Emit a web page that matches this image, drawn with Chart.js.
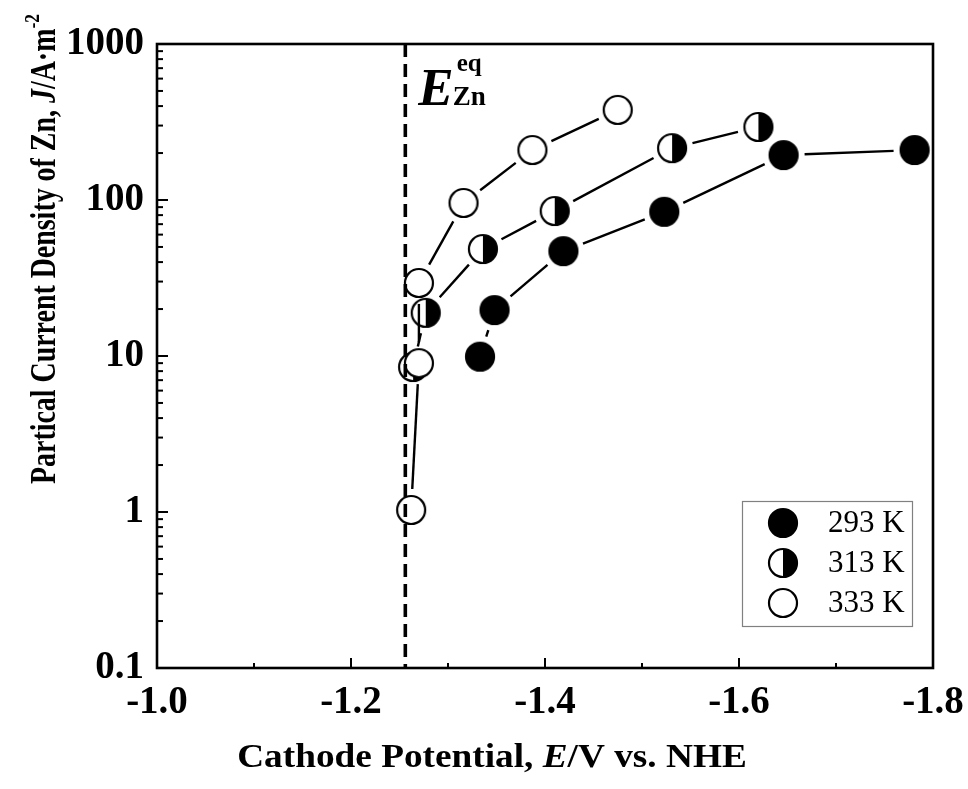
<!DOCTYPE html>
<html>
<head>
<meta charset="utf-8">
<script src="https://cdn.jsdelivr.net/npm/chart.js@4.4.1/dist/chart.umd.min.js"></script>
<style>
  html, body { margin: 0; padding: 0; background: #fff; }
  #wrap { width: 968px; height: 789px; }
</style>
</head>
<body>
<div id="wrap"><canvas id="myChart" width="968" height="789"></canvas></div>
<script>
// cathode potential (V vs. NHE) and partial current density of Zn (A/m2)
var potential293 = [-1.333, -1.348, -1.419, -1.523, -1.646, -1.781];
var density293   = [9.9, 19.7, 47, 84, 194, 209];
var potential313 = [-1.264, -1.277, -1.336, -1.410, -1.531, -1.620];
var density313   = [8.5, 18.9, 48.5, 85, 215, 294];
var potential333 = [-1.262, -1.270, -1.270, -1.316, -1.387, -1.475];
var density333   = [1.03, 9.0, 29.4, 95.7, 209, 378];
var seriesLabels = ['293 K', '313 K', '333 K'];
var eqPotential  = -1.256;   // E eq Zn, dashed line

var xTicks = [-1.0, -1.2, -1.4, -1.6, -1.8];
var xMinorTicks = [-1.1, -1.3, -1.5, -1.7];
var yTicks = [0.1, 1, 10, 100, 1000];

var SERIF = '"Liberation Serif", "Times New Roman", serif';

// marker symbols, drawn once on small canvases
function makeMarker(kind) {
  var c = document.createElement('canvas');
  c.width = 34; c.height = 34;
  var g = c.getContext('2d');
  var r = 14;
  if (kind === 'filled') {
    g.beginPath(); g.arc(17, 17, r, 0, 2 * Math.PI); g.fillStyle = '#000'; g.fill();
  } else if (kind === 'open') {
    g.beginPath(); g.arc(17, 17, r, 0, 2 * Math.PI); g.fillStyle = '#fff'; g.fill();
  } else {
    g.beginPath(); g.moveTo(17, 17 - r); g.arc(17, 17, r, -Math.PI / 2, Math.PI / 2); g.closePath();
    g.fillStyle = '#000'; g.fill();
  }
  g.beginPath(); g.arc(17, 17, r, 0, 2 * Math.PI);
  g.lineWidth = 2.2; g.strokeStyle = '#000'; g.stroke();
  return c;
}
var markers = [makeMarker('filled'), makeMarker('half'), makeMarker('open')];

function pts(xs, ys) {
  return xs.map(function (x, i) { return { x: x, y: ys[i] }; });
}

// draws a run of text pieces [text, font, dy] one after another
function drawRun(ctx, parts, x, y) {
  parts.forEach(function (p) {
    ctx.font = p[1] + SERIF;
    ctx.fillText(p[0], x, y + (p[2] || 0));
    x += ctx.measureText(p[0]).width;
  });
}
function runWidth(ctx, parts) {
  var w = 0;
  parts.forEach(function (p) { ctx.font = p[1] + SERIF; w += ctx.measureText(p[0]).width; });
  return w;
}

// lines between symbols with a small gap, frame, inward ticks, labels
var decor = {
  id: 'decor',
  beforeDatasetsDraw: function (chart) {
    var ctx = chart.ctx, gap = 21;
    ctx.save();
    ctx.strokeStyle = '#000';
    ctx.lineWidth = 2.4;
    chart.data.datasets.forEach(function (ds, i) {
      var els = chart.getDatasetMeta(i).data;
      for (var j = 0; j < els.length - 1; j++) {
        var a = els[j], b = els[j + 1];
        var dx = b.x - a.x, dy = b.y - a.y, len = Math.sqrt(dx * dx + dy * dy);
        if (len <= 2 * gap) continue;
        var ux = dx / len, uy = dy / len;
        ctx.beginPath();
        ctx.moveTo(a.x + ux * gap, a.y + uy * gap);
        ctx.lineTo(b.x - ux * gap, b.y - uy * gap);
        ctx.stroke();
      }
    });
    ctx.restore();
  },
  afterDatasetsDraw: function (chart) {
    var ctx = chart.ctx, area = chart.chartArea;
    var xs = chart.scales.x, ys = chart.scales.y;
    ctx.save();

    // dashed equilibrium line
    var ex = xs.getPixelForValue(eqPotential);
    ctx.strokeStyle = '#000';
    ctx.lineWidth = 3.6;
    ctx.setLineDash([13, 7]);
    ctx.beginPath(); ctx.moveTo(ex, area.top); ctx.lineTo(ex, area.bottom); ctx.stroke();
    ctx.setLineDash([]);

    // frame
    ctx.lineWidth = 2.6;
    ctx.strokeRect(area.left, area.top, area.right - area.left, area.bottom - area.top);

    // ticks pointing inward
    ctx.lineWidth = 2;
    xTicks.forEach(function (v) {
      var p = xs.getPixelForValue(v);
      ctx.beginPath(); ctx.moveTo(p, area.bottom); ctx.lineTo(p, area.bottom - 10); ctx.stroke();
    });
    xMinorTicks.forEach(function (v) {
      var p = xs.getPixelForValue(v);
      ctx.beginPath(); ctx.moveTo(p, area.bottom); ctx.lineTo(p, area.bottom - 5); ctx.stroke();
    });
    yTicks.forEach(function (v, k) {
      var p = ys.getPixelForValue(v);
      ctx.beginPath(); ctx.moveTo(area.left, p); ctx.lineTo(area.left + 11, p); ctx.stroke();
      if (k < yTicks.length - 1) {
        for (var m = 2; m <= 9; m++) {
          var q = ys.getPixelForValue(v * m);
          ctx.beginPath(); ctx.moveTo(area.left, q); ctx.lineTo(area.left + 6, q); ctx.stroke();
        }
      }
    });

    // E eq Zn label
    ctx.fillStyle = '#000';
    ctx.textBaseline = 'alphabetic';
    ctx.textAlign = 'left';
    var lx = ex + 13, ly = area.top + 61;
    ctx.font = 'italic bold 53px ' + SERIF;
    ctx.fillText('E', lx, ly);
    var ew = ctx.measureText('E').width;
    ctx.font = 'bold 25px ' + SERIF;
    ctx.fillText('eq', lx + ew + 3, ly - 34);
    ctx.font = 'bold 27px ' + SERIF;
    ctx.fillText('Zn', lx + ew - 1, ly);

    // legend box
    var bx = area.right - 191, by = area.bottom - 167;
    ctx.strokeStyle = '#808080';
    ctx.lineWidth = 1.2;
    ctx.strokeRect(bx + 0.5, by + 0.5, 170, 125);
    ctx.font = '31px ' + SERIF;
    ctx.textBaseline = 'middle';
    seriesLabels.forEach(function (lab, i) {
      var cy = by + 22 + i * 40;
      ctx.drawImage(markers[i], bx + 41 - 17, cy - 17);
      ctx.fillText(lab, bx + 86, cy + 1);
    });
    ctx.restore();
  },
  afterDraw: function (chart) {
    var ctx = chart.ctx;
    ctx.fillStyle = '#000';
    ctx.textBaseline = 'alphabetic';
    ctx.textAlign = 'left';

    // x axis title (the original lettering is a little wide)
    var xParts = [['Cathode Potential, ', 'bold 33px '], ['E', 'italic bold 33px '], ['/V vs. NHE', 'bold 33px ']];
    ctx.save();
    ctx.translate(492, 767);
    ctx.scale(1.13, 1);
    drawRun(ctx, xParts, -runWidth(ctx, xParts) / 2, 0);
    ctx.restore();

    // y axis title, rotated and a little narrow
    var yParts = [['Partical Current Density of Zn, ', 'bold 35px '], ['J', 'italic bold 35px '],
                  ['/A\u00B7m', 'bold 35px '], ['-2', 'bold 22px ', -16]];
    ctx.save();
    ctx.translate(55, 484);
    ctx.rotate(-Math.PI / 2);
    ctx.scale(470 / runWidth(ctx, yParts), 1);
    drawRun(ctx, yParts, 0, 0);
    ctx.restore();
  }
};

var tickFont = { family: SERIF, size: 39, weight: 'bold' };

var ctx = document.getElementById('myChart').getContext('2d');
var myChart = new Chart(ctx, {
  type: 'scatter',
  data: {
    datasets: [
      { label: seriesLabels[0], data: pts(potential293, density293), pointStyle: markers[0], showLine: false, order: 2 },
      { label: seriesLabels[1], data: pts(potential313, density313), pointStyle: markers[1], showLine: false, order: 1 },
      { label: seriesLabels[2], data: pts(potential333, density333), pointStyle: markers[2], showLine: false, order: 0 }
    ]
  },
  options: {
    responsive: false,
    animation: false,
    layout: { padding: { left: 0, top: 44, right: 35, bottom: 0 } },
    plugins: { legend: { display: false }, tooltip: { enabled: false } },
    scales: {
      x: {
        type: 'linear', min: -1.8, max: -1.0, reverse: true,
        afterBuildTicks: function (s) { s.ticks = xTicks.map(function (v) { return { value: v }; }); },
        afterFit: function (s) { s.height = 121; s.paddingLeft = 0; s.paddingRight = 0; },
        grid: { display: false, drawTicks: false },
        border: { display: false },
        ticks: { font: tickFont, color: '#000', padding: 12, maxRotation: 0,
                 callback: function (v) { return v.toFixed(1); } }
      },
      y: {
        type: 'logarithmic', min: 0.1, max: 1000,
        afterBuildTicks: function (s) { s.ticks = yTicks.map(function (v) { return { value: v }; }); },
        afterFit: function (s) { s.width = 157; s.paddingTop = 0; s.paddingBottom = 0; },
        grid: { display: false, drawTicks: false },
        border: { display: false },
        ticks: { font: tickFont, color: '#000', padding: 13,
                 callback: function (v) { return String(v); } }
      }
    }
  },
  plugins: [decor]
});
</script>
</body>
</html>
